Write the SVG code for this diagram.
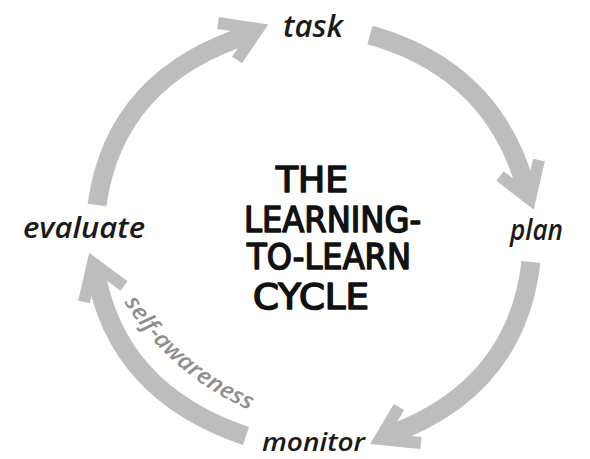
<svg xmlns="http://www.w3.org/2000/svg" width="590" height="459" viewBox="0 0 590 459">
<style>
.shaft{fill:none;stroke:#bdbdbd;stroke-width:19;stroke-linecap:butt}
.head{fill:none;stroke:#bdbdbd;stroke-width:12;stroke-linecap:butt;stroke-linejoin:miter}
.lbl{font-family:"Open Sans","DejaVu Sans",sans-serif;font-style:italic;font-weight:600;fill:#1a1a1a}
.title{font-family:"DejaVu Sans","Liberation Sans",sans-serif;font-weight:normal;font-size:35px;fill:#111;stroke:#111;stroke-width:1.6;stroke-linejoin:round}
.side{font-family:"Open Sans","DejaVu Sans",sans-serif;font-style:italic;font-weight:600;font-size:23px;fill:#8e8e8e}
</style>
<defs>
<path id="saPath" d="M 124 302 Q 178 386 270 418"/>
</defs>
<rect width="590" height="459" fill="#ffffff"/>
<g id="connectors">
<g id="arrow-evaluate-task">
<path class="shaft" d="M 97 205 Q 115 75 254 33"/>
<path class="head" d="M 218 23 L 258 29 L 237 60"/>
</g>
<g id="arrow-task-plan">
<path class="shaft" d="M 370 35 Q 495 70 527 192"/>
<path class="head" d="M 500 176 L 530 199 L 539 160"/>
</g>
<g id="arrow-plan-monitor">
<path class="shaft" d="M 531 262 Q 516 390 386 436"/>
<path class="head" d="M 399 407 L 380 439 L 421 443"/>
</g>
<g id="arrow-monitor-evaluate">
<path class="shaft" d="M 246 436 Q 115 392 95 268"/>
<path class="head" d="M 124 286 L 93 263 L 84 302"/>
<text class="side"><textPath href="#saPath" textLength="168" lengthAdjust="spacingAndGlyphs">self-awareness</textPath></text>
</g>
</g>
<g id="node-task"><text class="lbl" x="283" y="37" font-size="31" textLength="60" lengthAdjust="spacingAndGlyphs">task</text></g>
<g id="node-plan"><text class="lbl" x="510" y="240" font-size="28" textLength="53" lengthAdjust="spacingAndGlyphs">plan</text></g>
<g id="node-monitor"><text class="lbl" x="262" y="451" font-size="26" textLength="103" lengthAdjust="spacingAndGlyphs">monitor</text></g>
<g id="node-evaluate"><text class="lbl" x="23" y="238" font-size="29" textLength="122" lengthAdjust="spacingAndGlyphs">evaluate</text></g>
<g id="node-title">
<text class="title" x="276" y="192" textLength="72" lengthAdjust="spacingAndGlyphs">THE</text>
<text class="title" x="244" y="232" textLength="177" lengthAdjust="spacingAndGlyphs">LEARNING-</text>
<text class="title" x="247" y="269" textLength="164" lengthAdjust="spacingAndGlyphs">TO-LEARN</text>
<text class="title" x="253" y="309" textLength="116" lengthAdjust="spacingAndGlyphs">CYCLE</text>
</g>
</svg>
